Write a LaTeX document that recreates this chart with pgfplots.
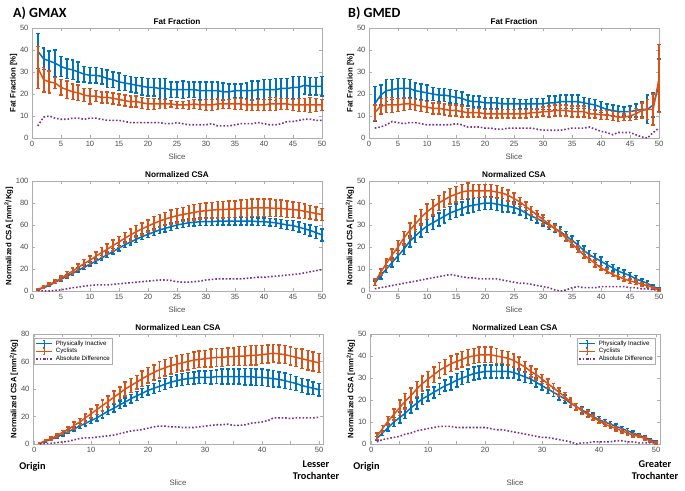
\documentclass[border=0pt]{standalone}
\usepackage{fontspec}
\setmainfont{Liberation Sans}
\newfontfamily\calibri{Carlito}
\usepackage{pgfplots}
\pgfplotsset{compat=1.18}
\usepackage{pgfplotstable}

\definecolor{mblue}{rgb}{0,0.447,0.741}
\definecolor{morange}{rgb}{0.85,0.325,0.098}
\definecolor{mpurple}{rgb}{0.494,0.184,0.556}
\definecolor{boxgray}{rgb}{0.68,0.68,0.68}
\definecolor{labgray}{rgb}{0.3,0.3,0.3}

% columns: slice, inactive mean, inactive sd, cyclists mean, cyclists sd, abs difference
\pgfplotstableread{
x b be o oe d
1 39.5 8 32 9.5 5.5
2 36 4.8 26.5 5.5 9.5
3 35 4.5 25.5 5 10
4 34 6 25 2.5 9
5 32.5 4.5 23 3.5 8.5
6 31.5 4.5 22 4 8.5
7 31 4.5 21 3.5 9
8 30 4.5 20.5 3.5 9
9 29 3.5 19.5 3 8.5
10 28.5 3.5 19 3.5 9
11 28.5 3.5 19 2.5 9
12 28 3.5 18.5 2.5 8.5
13 27 4 18.5 2.5 8
14 26.5 3.5 18 2.5 8
15 25.5 4 17.5 2.5 8
16 25 3.5 17 2.5 7.5
17 24.5 3.5 16.5 2.5 7
18 24 3.5 16.5 2.5 7
19 23.5 4 16 2.5 7
20 23 4 15.5 2.5 7
21 23 4 15.5 2.5 7
22 22.5 4.5 15.5 2 7
23 22.5 4.5 15.5 2 6.5
24 22 3.5 15.5 1.5 6.5
25 22 3.5 15 1.5 7
26 22 4 15 1.5 6.5
27 22 3.5 15 2 6
28 22 3.5 15.5 2 6
29 21.5 4 15 2 6
30 21.5 4 15 2.5 6
31 21.5 4 15 2.5 6.5
32 21.5 4 15.5 2.5 5.5
33 21 4 15.5 2 5.5
34 21 3.5 15.5 2 5.5
35 21.5 3 15.5 2.5 6
36 21.5 3 15.5 2.5 6.5
37 21.5 3.5 15 2.5 6.5
38 21.5 4.5 15 2.5 6.5
39 22 4 15 2.5 7
40 22 4.5 15 2.5 6.5
41 22 4.5 15.5 3 6
42 22 5 15.5 3 6
43 22.5 4.5 15.5 2.5 6.5
44 22.5 4.5 15.5 2.5 7.5
45 23 5 15 2.5 7.5
46 23 5 15 3 8
47 24 4 15 3 8.5
48 23.5 4 15 3.5 8.5
49 23.5 4 15 3 8
50 23.5 4.5 15 2.5 8
}\TL

\pgfplotstableread{
x b be o oe d
1 15.5 8 11.5 3.5 4.5
2 19.5 4.5 14.5 3.5 5
3 21.5 5 15 3.5 6
4 22 4.5 15 3.5 7.5
5 22.5 4.5 15 3 7
6 22.5 4.5 15.5 3 6.5
7 22.5 4 15.5 2.5 7
8 21.5 3.5 15 2.5 7
9 21 3.5 14.5 2.5 6.5
10 20.5 3.5 14 2.5 6
11 20 3 13.5 2.5 6
12 19.5 3 13.5 2.5 6
13 19.5 3 13 2.5 6
14 19 3 12.5 2.5 6
15 18.5 3 12.5 2.5 6.5
16 18 3 12 2.5 6
17 17 2.5 11.5 2 5
18 16.5 2.5 11.5 2 5
19 16.5 2.5 11.5 2 5
20 16 2.5 11 2 4.5
21 16 2.5 11 2 4.5
22 16 2.5 11 2 4
23 15.5 2.5 11 2 4
24 15.5 2.5 11 2 4.5
25 15.5 2.5 11 2 4.5
26 15.5 2 11 2 4.5
27 15.5 2 11 2 4.5
28 15.5 2.5 11.5 2 4.5
29 15.5 2.5 11.5 2 4
30 15.5 2.5 12 2 3.5
31 16 3 12 2.5 3.5
32 16 3 12.5 2.5 3.5
33 16.5 3 12.5 2.5 3.5
34 16.5 3 12.5 2.5 4
35 16.5 3 12 2.5 4.5
36 16.5 3 12 2.5 4.5
37 16 2.5 12 2.5 4.5
38 15.5 2.5 11 2 5
39 15 2.5 11 2 4
40 14 2.5 10.5 2 3
41 13 2.5 10.5 2 2.5
42 12.5 2.5 10 2 1.5
43 12 2.5 9.5 2 2.5
44 12 2 9.5 1.5 2.5
45 12 2.5 10 2 2.5
46 12.5 3 11 2.5 1.5
47 13 3.5 12.5 3.5 0.5
48 13 6.5 13 4.5 0
49 15 5.5 13 7 2.5
50 24 12 27 15.5 4.5
}\TR

\pgfplotstableread{
x b be o oe d
1 1 0.5 1.5 0.8 0.5
2 3 0.8 3.5 1 0
3 5 1 6 1.2 0
4 8 1 8.5 1.5 0.5
5 10.5 1.2 11.5 2 1
6 13.5 1.5 15 2.5 2
7 16 1.5 18 3 3
8 19 1.8 21.5 3 3.5
9 21.5 2 25 3.5 4.5
10 24.5 2 28 4 5
11 27 2.2 31.5 4 5.5
12 30 2.3 35 4.5 5.5
13 33 2.4 38 4.5 5.5
14 36 2.5 41.5 5 6
15 39 2.5 44.5 5 6.5
16 42 2.6 48 5 7
17 44.5 2.7 51 5.5 7.5
18 47 2.8 54 5.5 8
19 49.5 2.9 56.5 5.5 8.5
20 51.5 3 59 5.5 9
21 53.5 3 61.5 6 9.5
22 55.5 3.1 63.5 6 10
23 57 3.2 65.5 6 10
24 58.5 3.3 67 6.5 9.5
25 60 3.3 68.5 6.5 8.5
26 61 3.4 69.5 6.5 8
27 62 3.5 70.5 7 8
28 62.5 3.5 71.5 7 8.5
29 63 3.5 72.5 7 9
30 63 3.5 73 7 10
31 63 3.5 73.5 7 10.5
32 63.5 3.5 74 7.5 11
33 63.5 3.5 74 7.5 11
34 63.5 3.5 74.5 7.5 11
35 63.5 3.5 74.5 7.5 11
36 63.5 3.5 75 7.5 11
37 63.5 3.5 75 8 11.5
38 63.5 3.5 75.5 8 12
39 63 3.5 75.5 8 12.5
40 63 3.5 75.5 8 12.5
41 62.5 3.5 75.5 8 13
42 62 3.5 75 7.5 13.5
43 61 4 75 7.5 14
44 60 4 74.5 7.5 14.5
45 59.5 4.5 74 7 15
46 58 4.5 73.5 7 15.5
47 56.5 5 72.5 6.5 16.5
48 55 5 71.5 6 17.5
49 53 5.5 70.5 6 18.5
50 51 5.5 69.5 5.5 19.5
}\ML

\pgfplotstableread{
x b be o oe d
1 3.5 1 4 1.5 1
2 7 1.5 8.5 1.5 1.5
3 10 1.5 12.5 2 2
4 13 2 16.5 2.5 2.5
5 16 2.5 20 3 3
6 19 2.5 24 3 3.5
7 22.5 2.5 27.5 3.5 4
8 25 3 30.5 3.5 4.5
9 27.5 3 33.5 3.5 5
10 29.5 3 36 3.5 5.5
11 31 3 38 3.5 6
12 32.5 3 40 3.5 6.5
13 34 3 41.5 3.5 7
14 35.5 3 43 3.5 7.5
15 36.5 3 44 3.5 7
16 37.5 3 45 3.5 6.5
17 38.5 3 45.5 3.5 6
18 39 3 45.5 3 6
19 39.5 3 45.5 3 5.5
20 40 3 45.5 3 5.5
21 40 3 45.5 3 5.5
22 39.5 3 45 3 5.5
23 39 3 44.5 2.5 5
24 38.5 2.5 43.5 2.5 4.5
25 38 2.5 42 2.5 4
26 37 2.5 40.5 2 3.5
27 35.5 2.5 38.5 2 3.5
28 34 2 36.5 2 3
29 33 2 34.5 2 2.5
30 31.5 2 32.5 2 2
31 30 2 30.5 1.5 1.5
32 28.5 2 28.5 1.5 0.5
33 27 2 26.5 1.5 0
34 25 2 24 1.5 0.5
35 23 2 21.5 1.5 1.5
36 21 2 19 1.5 2
37 18.5 2 16.5 1.5 1.5
38 16.5 2 14.5 1.5 1.5
39 15 2 12.5 1.5 1.5
40 13.5 2 10.5 1 2
41 12 1.5 9 1 2
42 10.5 1.5 7.5 1 2
43 9 1.5 6.5 1 2
44 8 1.5 5.5 1 2
45 7 1.5 4.5 1 1.5
46 5.5 1.5 4 1 1.5
47 4.5 1 3 0.8 1
48 3.5 1 2.5 0.8 1
49 2 0.8 1.5 0.5 0.5
50 1 0.5 0.5 0.5 0.5
}\MR

\pgfplotstableread{
x b be o oe d
1 0.5 0.3 0.5 0.3 0
2 2 0.5 2.5 0.6 0.5
3 3.5 0.8 4 1 0.5
4 5 1 6 1.2 1
5 7 1.2 8.5 1.5 1.5
6 9 1.5 10.5 2 2
7 11 1.5 13.5 2.5 3
8 13 1.8 16 2.5 4
9 15 2 19 3 4.5
10 17 2.2 22 3.5 4.5
11 19 2.4 25 3.5 5
12 21.5 2.5 28 4 5.5
13 24 2.6 31 4 6
14 26 2.7 34 4.5 6.5
15 28.5 2.8 37 4.5 7.5
16 30.5 3 40 5 8.5
17 33 3 42.5 5 9.5
18 35 3.2 45 5 10
19 37 3.3 47.5 5.5 10.5
20 39 3.5 50 5.5 11.5
21 40.5 3.6 52 5.5 12.5
22 42 3.8 54 6 13
23 43.5 4 55.5 6 13
24 45 4 57 6 12.5
25 46 4.2 58 6 12.5
26 47 4.3 59 6 12
27 47.5 4.4 60 6 12
28 48 4.5 61 6 12
29 48.5 4.5 61.5 6 12.5
30 48.5 4.5 62 6 13
31 48.5 5 62.5 6.5 13.5
32 49 5 63 6.5 14
33 49 5.5 63 6.5 14
34 49 5.5 63.5 6.5 14.5
35 49 5.5 63.5 6.5 13.5
36 49 5.5 64 7 13.5
37 49 6 64 7 14
38 49 6 64.5 7 15
39 48.5 6 64.5 7 15.5
40 48.5 6 65 6.5 16
41 48 6 65.5 6.5 17
42 47.5 6 66 6.5 19
43 47 5.5 65.5 6.5 19
44 46 5.5 65 6.5 19
45 45 5.5 64 6.5 18.5
46 44 5 63 6.5 19
47 42.5 5 62 7 19
48 41.5 5 61 7 19
49 40.5 4.5 60 7 19
50 39.5 4.5 59 7 19.5
}\BL

\pgfplotstableread{
x b be o oe d
1 2.5 1 3.5 1.5 1
2 5 1.2 7 1.5 2
3 7.5 1.5 10.5 2 2.5
4 10 2 13.5 2.5 3
5 12 2.5 16.5 3.5 3.5
6 14 2.5 19.5 3.5 4.5
7 16.5 2.5 22 3.5 5
8 18.5 2.5 25 3.5 6
9 20.5 2.5 27.5 3.5 6.5
10 22 2.5 29.5 3.5 7
11 23.5 2.5 31.5 3.5 7.5
12 25 2.5 33.5 3.5 8
13 26.5 2.5 35 3.5 8
14 27.5 3 36.5 3.5 8
15 29 3 37.5 3.5 7.5
16 30 3 38.5 3.5 7.5
17 31 3 39.5 3.5 7.5
18 32 3 40 3.5 7.5
19 32.5 3 40.5 3.5 7.5
20 33 3 40.5 3.5 7.5
21 33 3 40.5 3.5 7
22 33 3 40 3.5 6.5
23 33 3 39.5 3 6.5
24 33 3 39 3 6
25 32.5 2.5 38 3 5.5
26 31.5 2.5 36.5 3 5
27 30.5 2.5 35 2.5 4.5
28 29.5 2 33 2.5 4
29 28 2 31.5 2.5 3.5
30 26.5 2 29.5 2 3
31 25 2 27.5 2 3
32 23.5 2 25.5 2 2.5
33 22 2 23.5 2 2
34 20.5 1.8 21.5 1.8 1.5
35 18.5 1.8 19 1.8 1
36 17 1.5 17 1.5 0
37 15.5 1.5 15 1.5 0.5
38 14 1.5 13.5 1.5 0.5
39 12.5 1.5 12 1.2 1
40 11 1.5 10.5 1 1
41 10 1.2 9 1 1
42 9 1.2 8 1 1
43 8 1.2 7 1 1.5
44 7 1 6 1 1.5
45 6 1 5 0.8 1
46 5 1 4 0.8 1
47 4 0.8 3.5 0.6 0.5
48 3 0.8 2.5 0.6 0.5
49 2 0.6 1.5 0.5 0.5
50 1 0.5 0.5 0.5 0.5
}\BR

\pgfplotsset{
  base/.style={
    scale only axis, width=290pt, height=110pt, anchor=south west,
    axis line style={draw=boxgray, line width=0.6pt},
    every tick/.style={draw=boxgray, line width=0.6pt},
    tick align=inside, major tick length=3pt,
    ticklabel style={font=\fontsize{7.6}{9}\selectfont, text=labgray},
    /pgf/number format/assume math mode=true,
    xlabel={Slice},
    xlabel style={font=\fontsize{7.8}{9}\selectfont, text=labgray},
    ylabel style={font=\bfseries\fontsize{7.8}{9}\selectfont},
    ylabel shift=-4pt,
    title style={font=\bfseries\fontsize{8.2}{9}\selectfont, yshift=-6.5pt},
    xmin=0, xmax=50, xtick={0,5,...,50},
    clip=false,
  },
  bottomax/.style={
    xmin=-0.2, xmax=50.7, xtick={0,5,...,50},
    xticklabels={0,,10,,20,,30,,40,,50},
    xlabel style={yshift=-20pt},
    legend style={draw=boxgray, fill=white, font=\fontsize{6.2}{7}\selectfont,
      inner sep=0.8pt, row sep=-2.5pt, line width=0.5pt},
    legend cell align=left,
  },
  errleg/.style={legend image code/.code={
      \draw[#1, line width=1.1pt] (0pt,0pt) -- (16pt,0pt);
      \draw[#1, line width=0.9pt] (8pt,-3.3pt) -- (8pt,3.3pt);
      \draw[#1, line width=0.9pt] (6.6pt,-3.3pt) -- (9.4pt,-3.3pt);
      \draw[#1, line width=0.9pt] (6.6pt,3.3pt) -- (9.4pt,3.3pt);
  }},
  blueline/.style={mblue, line width=1.5pt, mark=none, errleg=mblue,
    error bars/y dir=both, error bars/y explicit,
    error bars/error bar style={/tikz/line width=1.9pt, /tikz/draw=mblue},
    error bars/error mark options={/tikz/line width=1.5pt, /tikz/draw=mblue, mark size=1.9pt, rotate=90}},
  orangeline/.style={morange, line width=1.5pt, mark=none, errleg=morange,
    error bars/y dir=both, error bars/y explicit,
    error bars/error bar style={/tikz/line width=1.9pt, /tikz/draw=morange},
    error bars/error mark options={/tikz/line width=1.5pt, /tikz/draw=morange, mark size=1.9pt, rotate=90}},
  purpleline/.style={mpurple, line width=1.6pt, mark=none, line cap=butt,
    dash pattern=on 1.6pt off 1.9pt},
}

\begin{document}
\begin{tikzpicture}
\path[use as bounding box] (0pt,0pt) rectangle (685pt,490pt);

\node[font=\calibri\bfseries\fontsize{14}{16}\selectfont, anchor=west, inner sep=0pt] at (13pt,477pt) {A) GMAX};
\node[font=\calibri\bfseries\fontsize{14}{16}\selectfont, anchor=west, inner sep=0pt] at (348pt,477pt) {B) GMED};

% top left
\begin{axis}[base, at={(32pt,352pt)}, title={Fat Fraction}, ylabel={Fat Fraction [\%]},
  ymin=0, ymax=50, ytick={0,10,...,50}]
\addplot[blueline] table[x=x, y=b, y error=be] {\TL};
\addplot[orangeline] table[x=x, y=o, y error=oe] {\TL};
\addplot[purpleline] table[x=x, y=d] {\TL};
\end{axis}

% top right
\begin{axis}[base, at={(369pt,352pt)}, title={Fat Fraction}, ylabel={Fat Fraction [\%]},
  ymin=0, ymax=50, ytick={0,10,...,50}]
\addplot[blueline] table[x=x, y=b, y error=be] {\TR};
\addplot[orangeline] table[x=x, y=o, y error=oe] {\TR};
\addplot[purpleline] table[x=x, y=d] {\TR};
\end{axis}

% middle left
\begin{axis}[base, at={(32pt,199pt)}, title={Normalized CSA},
  ylabel={Normalized CSA [mm\textsuperscript{2}/Kg]},
  ymin=0, ymax=100, ytick={0,20,...,100}]
\addplot[blueline] table[x=x, y=b, y error=be] {\ML};
\addplot[orangeline] table[x=x, y=o, y error=oe] {\ML};
\addplot[purpleline] table[x=x, y=d] {\ML};
\end{axis}

% middle right
\begin{axis}[base, at={(369pt,199pt)}, title={Normalized CSA},
  ylabel={Normalized CSA [mm\textsuperscript{2}/Kg]},
  ymin=0, ymax=50, ytick={0,10,...,50}]
\addplot[blueline] table[x=x, y=b, y error=be] {\MR};
\addplot[orangeline] table[x=x, y=o, y error=oe] {\MR};
\addplot[purpleline] table[x=x, y=d] {\MR};
\end{axis}

% bottom left
\begin{axis}[base, bottomax, at={(33pt,46pt)}, title={Normalized Lean CSA},
  ylabel={Normalized CSA [mm\textsuperscript{2}/Kg]},
  ymin=0, ymax=80, ytick={0,20,...,80},
  legend style={at={(0.004,0.965)}, anchor=north west}]
\addplot[blueline] table[x=x, y=b, y error=be] {\BL};
\addplot[orangeline] table[x=x, y=o, y error=oe] {\BL};
\addplot[purpleline] table[x=x, y=d] {\BL};
\legend{Physically Inactive, Cyclists, Absolute Difference}
\end{axis}

% bottom right
\begin{axis}[base, bottomax, at={(370pt,46pt)}, title={Normalized Lean CSA},
  ylabel={Normalized CSA [mm\textsuperscript{2}/Kg]},
  ymin=0, ymax=50, ytick={0,10,...,50},
  legend style={at={(0.986,0.965)}, anchor=north east}]
\addplot[blueline] table[x=x, y=b, y error=be] {\BR};
\addplot[orangeline] table[x=x, y=o, y error=oe] {\BR};
\addplot[purpleline] table[x=x, y=d] {\BR};
\legend{Physically Inactive, Cyclists, Absolute Difference}
\end{axis}

\node[font=\calibri\bfseries\fontsize{10.3}{12}\selectfont] at (32.5pt,23pt) {Origin};
\node[font=\calibri\bfseries\fontsize{10.3}{12}\selectfont, align=center] at (316pt,20pt) {Lesser\\Trochanter};
\node[font=\calibri\bfseries\fontsize{10.3}{12}\selectfont] at (366.5pt,23pt) {Origin};
\node[font=\calibri\bfseries\fontsize{10.3}{12}\selectfont, align=center] at (655pt,20pt) {Greater\\Trochanter};
\end{tikzpicture}
\end{document}
